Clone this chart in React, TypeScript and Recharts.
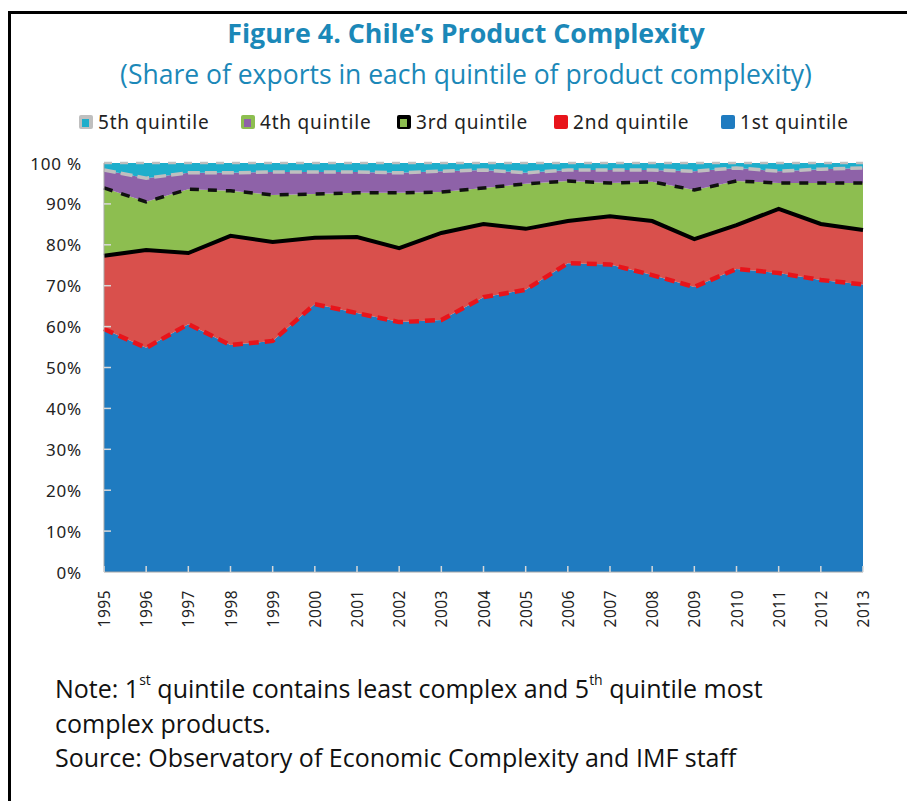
import React from 'react';
import { AreaChart, Area, XAxis, YAxis } from 'recharts';

const years = ['1995','1996','1997','1998','1999','2000','2001','2002','2003','2004','2005','2006','2007','2008','2009','2010','2011','2012','2013'];
const q1 = [59.4,54.8,60.6,55.5,56.5,65.5,63.3,61.1,61.6,67.2,69.0,75.5,75.2,72.6,69.7,74.1,73.1,71.4,70.3];
const q2 = [17.9,23.9,17.4,26.7,24.2,16.2,18.6,18.1,21.3,17.9,14.9,10.3,11.8,13.2,11.7,10.7,15.7,13.7,13.3];
const q3 = [16.6,11.8,15.6,11.0,11.5,10.7,10.8,13.5,10.0,8.8,11.0,9.8,8.1,9.6,12.0,10.8,6.3,10.0,11.5];
const q4 = [4.4,5.8,4.0,4.4,5.6,5.4,5.1,4.9,5.1,4.4,2.7,2.7,3.2,2.9,4.6,3.2,2.9,3.4,3.7];
const q5 = [1.7,3.7,2.4,2.4,2.2,2.2,2.2,2.4,2.0,1.7,2.4,1.7,1.7,1.7,2.0,1.2,2.0,1.5,1.2];
const yTicks = [0,10,20,30,40,50,60,70,80,90,100];

const seriesNames = ['1st quintile','2nd quintile','3rd quintile','4th quintile','5th quintile'];
const title = 'Figure 4. Chile\u2019s Product Complexity';
const subtitle = '(Share of exports in each quintile of product complexity)';

const data = years.map((y, i) => ({ year: y, q1: q1[i], q2: q2[i], q3: q3[i], q4: q4[i], q5: q5[i] }));

const C = {
  blue: '#1F7BC0',
  red: '#D9504C',
  redLine: '#E8141B',
  green: '#8DBE50',
  purple: '#8E62A8',
  cyan: '#1EAECB',
  gray: '#BFBFBF',
  titleBlue: '#1B88B8',
};

const axisFont = '"Noto Sans", sans-serif';

const XTick = (props: any) => {
  const { x, y, payload } = props;
  return (
    <g>
      <line x1={x} y1={y} x2={x} y2={y - 6} stroke="#D8D8D8" strokeWidth={1.5} />
      <text x={x} y={y + 18} transform={`rotate(-90 ${x} ${y + 18})`} textAnchor="end" dominantBaseline="central" fontSize={15.5} letterSpacing={0.5} fontFamily={axisFont} fill="#222">
        {payload.value}
      </text>
    </g>
  );
};

const YTick = (props: any) => {
  const { x, y, payload } = props;
  const label = payload.value === 100 ? '100 %' : `${payload.value}%`;
  return (
    <g>
      {payload.value > 0 && payload.value < 100 ? <line x1={x} y1={y} x2={x + 7} y2={y} stroke="#D8D8D8" strokeWidth={1.5} /> : null}
      <text x={x - 22} y={y} textAnchor="end" dominantBaseline="central" fontSize={17} letterSpacing={0.8} fontFamily={axisFont} fill="#222">
        {label}
      </text>
    </g>
  );
};

const legendItems = [
  { name: seriesNames[4], outer: C.gray, inner: C.cyan },
  { name: seriesNames[3], outer: C.green, inner: C.purple },
  { name: seriesNames[2], outer: '#000', inner: C.green },
  { name: seriesNames[1], outer: C.redLine, inner: C.redLine },
  { name: seriesNames[0], outer: C.blue, inner: C.blue },
];
const legendLefts = [79, 241, 397, 554, 721];

export default function App() {
  return (
    <div style={{ position: 'absolute', left: 0, top: 0, width: 907, height: 801, background: '#fff', overflow: 'hidden' }}>
      <div style={{ position: 'absolute', left: 8, top: 11, width: 920, height: 800, borderLeft: '3px solid #000', borderTop: '3px solid #000' }} />
      <div style={{ position: 'absolute', left: 25, width: 882, top: 15, textAlign: 'center', fontFamily: '"Open Sans", sans-serif', fontWeight: 700, fontSize: 26.8, lineHeight: '36px', color: C.titleBlue }}>
        {title}
      </div>
      <div style={{ position: 'absolute', left: 25, width: 882, top: 56, textAlign: 'center', fontFamily: '"Open Sans", sans-serif', fontSize: 26.5, lineHeight: '36px', color: C.titleBlue }}>
        {subtitle}
      </div>
      {legendItems.map((it, i) => (
        <div key={it.name} style={{ position: 'absolute', left: legendLefts[i], top: 110, height: 24, display: 'flex', alignItems: 'center' }}>
          <div style={{ width: 14, height: 14, background: it.outer, borderRadius: 2, position: 'relative', marginRight: 5 }}>
            <div style={{ position: 'absolute', left: 3, top: 4, width: 7, height: 8, background: it.inner }} />
          </div>
          <span style={{ fontFamily: axisFont, fontSize: 19, letterSpacing: 0.8, color: '#222' }}>{it.name}</span>
        </div>
      ))}
      <div style={{ position: 'absolute', left: 0, top: 0 }}>
        <AreaChart width={907} height={801} data={data} margin={{ top: 163, right: 44, bottom: 179, left: 44 }}>
          <Area type="linear" dataKey="q1" name={seriesNames[0]} stackId="fill" fill={C.blue} fillOpacity={1} stroke="none" isAnimationActive={false} />
          <Area type="linear" dataKey="q2" name={seriesNames[1]} stackId="fill" fill={C.red} fillOpacity={1} stroke="none" isAnimationActive={false} />
          <Area type="linear" dataKey="q3" name={seriesNames[2]} stackId="fill" fill={C.green} fillOpacity={1} stroke="none" isAnimationActive={false} />
          <Area type="linear" dataKey="q4" name={seriesNames[3]} stackId="fill" fill={C.purple} fillOpacity={1} stroke="none" isAnimationActive={false} />
          <Area type="linear" dataKey="q5" name={seriesNames[4]} stackId="fill" fill={C.cyan} fillOpacity={1} stroke="none" isAnimationActive={false} />
          <Area type="linear" dataKey="q1" legendType="none" stackId="edge" fill="none" stroke={C.redLine} strokeWidth={4.5} strokeDasharray="10 6" isAnimationActive={false} />
          <Area type="linear" dataKey="q2" legendType="none" stackId="edge" fill="none" stroke="#000" strokeWidth={4} isAnimationActive={false} />
          <Area type="linear" dataKey="q3" legendType="none" stackId="edge" fill="none" stroke="#111" strokeWidth={3.5} strokeDasharray="9 9" isAnimationActive={false} />
          <Area type="linear" dataKey="q4" legendType="none" stackId="edge" fill="none" stroke={C.gray} strokeWidth={3.5} strokeDasharray="12 5" isAnimationActive={false} />
          <Area type="linear" dataKey="q5" legendType="none" stackId="edge" fill="none" stroke={C.gray} strokeWidth={2.5} strokeDasharray="8 8" isAnimationActive={false} />
          <XAxis dataKey="year" height={50} tickSize={0} tickMargin={0} interval={0} tick={<XTick />} axisLine={{ stroke: '#A6A6A6' }} tickLine={false} />
          <YAxis width={60} domain={[0, 100]} ticks={yTicks} tickSize={0} tickMargin={0} interval={0} tick={<YTick />} axisLine={{ stroke: '#A6A6A6' }} tickLine={false} />
        </AreaChart>
      </div>
      <div style={{ position: 'absolute', left: 55, top: 671, fontFamily: '"Open Sans", sans-serif', fontSize: 25, lineHeight: '34.5px', color: '#111', whiteSpace: 'nowrap' }}>
        <div>Note: 1<sup style={{ fontSize: 14, verticalAlign: 'top', lineHeight: '18px' }}>st</sup> quintile contains least complex and 5<sup style={{ fontSize: 14, verticalAlign: 'top', lineHeight: '18px' }}>th</sup> quintile most</div>
        <div>complex products.</div>
        <div>Source: Observatory of Economic Complexity and IMF staff</div>
      </div>
    </div>
  );
}
